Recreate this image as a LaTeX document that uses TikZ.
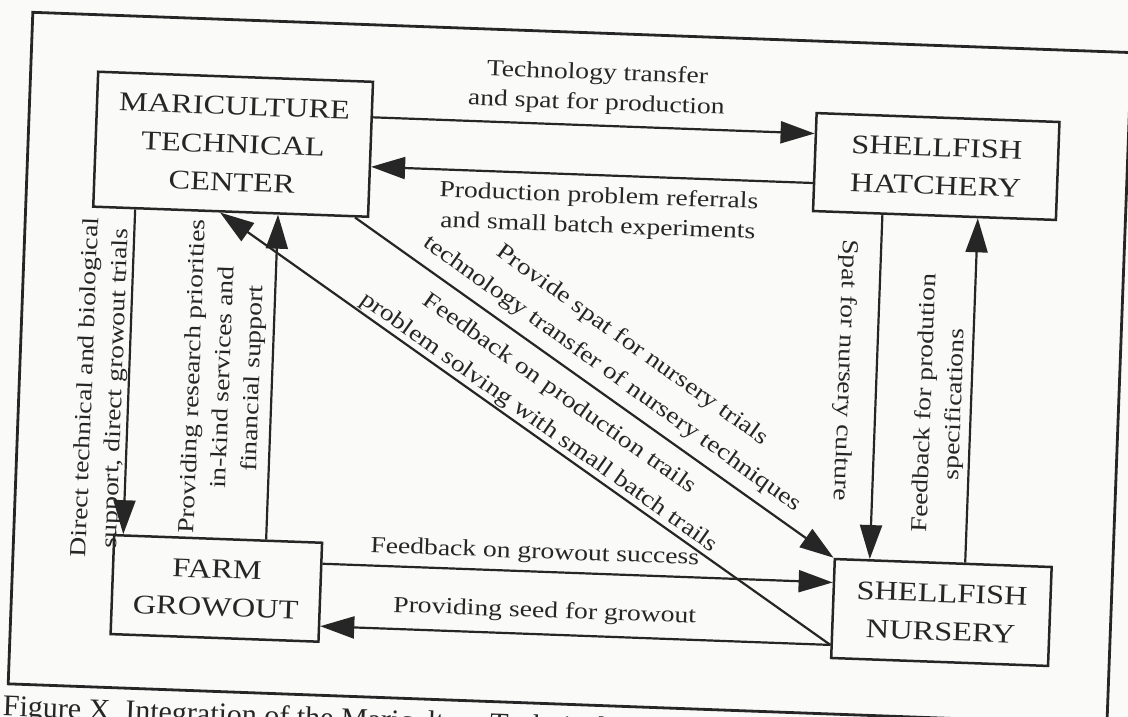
\documentclass[tikz,border=0pt]{standalone}
\usepackage{fontspec}
\setmainfont[FakeStretch=1.2]{Liberation Serif}
\newfontfamily\capfont{Liberation Serif}
\usetikzlibrary{arrows.meta,calc}
\definecolor{ink}{HTML}{262626}
\definecolor{paper}{HTML}{FAFAF8}
\begin{document}
\begin{tikzpicture}[x=1pt,y=-1pt,
  box/.style={draw=ink, line width=2.5pt, inner sep=0pt, align=center, text=ink,
    font=\fontsize{27}{38}\selectfont},
  lbl/.style={text=ink, align=center, inner sep=2pt, font=\fontsize{23}{30}\selectfont},
  dlbl/.style={text=ink, align=center, inner sep=2pt, font=\fontsize{23}{35}\selectfont},
  arr/.style={draw=ink, line width=2.2pt, -{Triangle[length=34pt,width=22pt]}},
]
\clip (0,0) rectangle (1128,717);
\fill[paper] (0,0) rectangle (1128,717);
\begin{scope}[rotate around={-2.1:(564,358)}, transform shape]
  % frame
  \draw[ink, line width=2.8pt] (20.5,32) rectangle (1120,704);
  % boxes
  \node[box, minimum width=275pt, minimum height=135pt] (mari) at (225.5,156.5) {MARICULTURE\\TECHNICAL\\CENTER};
  \node[box, minimum width=243pt, minimum height=98pt] (hatch) at (929,153) {SHELLFISH\\HATCHERY};
  \node[box, minimum width=208pt, minimum height=99pt] (farm) at (225,601) {FARM\\GROWOUT};
  \node[box, minimum width=217pt, minimum height=99pt] (nurs) at (950.5,598.5) {SHELLFISH\\NURSERY};
  % connectors
  \draw[arr] ([yshift=32pt]mari.east) -- ([yshift=28.5pt]hatch.west);
  \draw[arr] ([yshift=-21pt]hatch.west) -- ([yshift=-17.5pt]mari.east);
  \draw[arr] ([xshift=-95.5pt]mari.south) -- ([xshift=-95pt]farm.north);
  \draw[arr] ([xshift=48pt]farm.north) -- ([xshift=47.5pt]mari.south);
  \draw[arr] ([xshift=124.5pt]mari.south) -- (nurs.north west);
  \draw[arr] ([yshift=-36.5pt]nurs.west) -- ([xshift=-10.5pt]mari.south);
  \draw[arr] ([xshift=-52pt]hatch.south) -- ([xshift=-73.5pt]nurs.north);
  \draw[arr] ([xshift=22pt]nurs.north) -- ([xshift=43.5pt]hatch.south);
  \draw[arr] ([yshift=28.5pt]farm.east) -- ([yshift=26pt]nurs.west);
  \draw[arr] ([yshift=-36.5pt]nurs.west) -- ([yshift=-34pt]farm.east);
  % labels
  \node[lbl] (l1) at (587,88) {Technology transfer\\and spat for production};
  \node[lbl] (l2) at (593,211) {Production problem referrals\\and small batch experiments};
  \node[lbl, rotate=90] (l3) at (103,405) {Direct technical and biological\\support, direct growout trials};
  \node[lbl, rotate=90] (l4) at (225,390) {Providing research priorities\\in-kind services and\\financial support};
  \node[dlbl, rotate=-33.45, anchor=south] (l5) at (605.3,383.1) {Provide spat for nursery trials\\technology transfer of nursery techniques};
  \node[dlbl, rotate=-33.25, anchor=south] (l6) at (534.3,434.4) {Feedback on production trails\\problem solving with small batch trails};
  \node[lbl, rotate=-90] (l7) at (845,360) {Spat for nursery culture};
  \node[lbl, rotate=90] (l8) at (942,390) {Feedback for prodution\\specifications};
  \node[lbl] (l9) at (542,554) {Feedback on growout success};
  \node[lbl] (l10) at (554,612.5) {Providing seed for growout};
  % caption
  \node[text=ink, anchor=north west, inner sep=0pt, font=\capfont\fontsize{30}{36}\selectfont] (cap) at (16,715) {Figure X\ \ Integration of the Mariculture Technical};
\end{scope}
\end{tikzpicture}
\end{document}
